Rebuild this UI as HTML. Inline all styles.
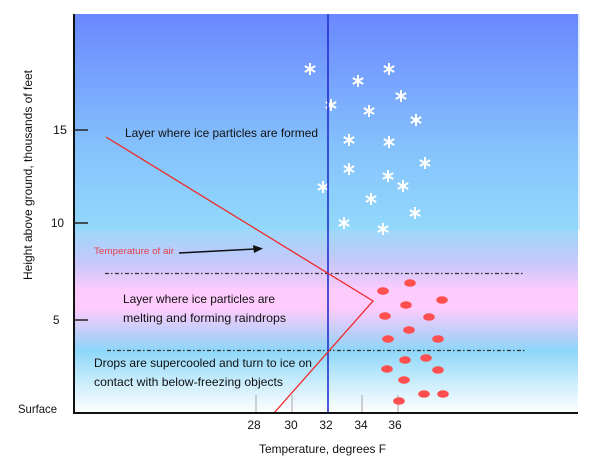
<!DOCTYPE html>
<html>
<head>
<meta charset="utf-8">
<style>
  html,body{margin:0;padding:0;background:#fff;}
  svg{display:block;}
  text{font-family:"Liberation Sans",sans-serif;}
</style>
</head>
<body>
<svg width="600" height="471" viewBox="0 0 600 471" xmlns="http://www.w3.org/2000/svg">
  <defs>
    <linearGradient id="gTop" x1="0" y1="14" x2="0" y2="230" gradientUnits="userSpaceOnUse">
      <stop offset="0" stop-color="#6a88ff"/>
      <stop offset="0.3" stop-color="#77a3fe"/>
      <stop offset="0.6" stop-color="#84c0fc"/>
      <stop offset="1" stop-color="#92d9fb"/>
    </linearGradient>
    <linearGradient id="gBot" x1="0" y1="230" x2="0" y2="413" gradientUnits="userSpaceOnUse">
      <stop offset="0" stop-color="#9ed8fb"/>
      <stop offset="0.17" stop-color="#c4c8fb"/>
      <stop offset="0.33" stop-color="#fecbfd"/>
      <stop offset="0.43" stop-color="#fecbfd"/>
      <stop offset="0.58" stop-color="#b4cff9"/>
      <stop offset="0.66" stop-color="#8dd7fa"/>
      <stop offset="0.82" stop-color="#c6ebfc"/>
      <stop offset="1" stop-color="#ffffff"/>
    </linearGradient>
    <g id="sf">
      <line x1="0" y1="-6" x2="0" y2="6" stroke="#fff" stroke-width="2"/>
      <line x1="-5.2" y1="-3" x2="5.2" y2="3" stroke="#fff" stroke-width="2"/>
      <line x1="-5.2" y1="3" x2="5.2" y2="-3" stroke="#fff" stroke-width="2"/>
    </g>
  </defs>

  <!-- background -->
  <rect x="74" y="14" width="504" height="216" fill="url(#gTop)"/>
  <rect x="74" y="230" width="504" height="183" fill="url(#gBot)"/>
  <rect x="578" y="14" width="2" height="216" fill="#c8dcff" opacity="0.6"/>

  <!-- gray x ticks -->
  <g stroke="#a8a8a8" stroke-width="1">
    <line x1="256" y1="395" x2="256" y2="413"/>
    <line x1="292" y1="395" x2="292" y2="413"/>
    <line x1="362" y1="395" x2="362" y2="413"/>
    <line x1="398" y1="395" x2="398" y2="413"/>
  </g>

  <!-- dash-dot lines -->
  <line x1="105" y1="273.5" x2="524" y2="273.5" stroke="#333" stroke-width="1.2" stroke-dasharray="4 2 1.5 2.5"/>
  <line x1="107" y1="350.5" x2="527" y2="350.5" stroke="#333" stroke-width="1.2" stroke-dasharray="4 2 1.5 2.5"/>

  <!-- snowflakes -->
  <use href="#sf" x="310" y="69"/>
  <use href="#sf" x="389" y="69"/>
  <use href="#sf" x="358" y="81"/>
  <use href="#sf" x="401" y="96"/>
  <use href="#sf" x="331" y="105"/>
  <use href="#sf" x="369" y="111"/>
  <use href="#sf" x="416" y="120"/>
  <use href="#sf" x="349" y="140"/>
  <use href="#sf" x="389" y="142"/>
  <use href="#sf" x="425" y="163"/>
  <use href="#sf" x="349" y="169"/>
  <use href="#sf" x="388" y="176"/>
  <use href="#sf" x="403" y="186"/>
  <use href="#sf" x="323" y="187"/>
  <use href="#sf" x="371" y="199"/>
  <use href="#sf" x="415" y="213"/>
  <use href="#sf" x="344" y="223"/>
  <use href="#sf" x="383" y="229"/>

  <!-- raindrops -->
  <g fill="#ff4f4f">
    <ellipse cx="410" cy="283" rx="5.8" ry="3.8"/>
    <ellipse cx="383" cy="291" rx="5.8" ry="3.8"/>
    <ellipse cx="442" cy="300" rx="5.8" ry="3.8"/>
    <ellipse cx="406" cy="305" rx="5.8" ry="3.8"/>
    <ellipse cx="385" cy="316" rx="5.8" ry="3.8"/>
    <ellipse cx="429" cy="317" rx="5.8" ry="3.8"/>
    <ellipse cx="409" cy="330" rx="5.8" ry="3.8"/>
    <ellipse cx="388" cy="339" rx="5.8" ry="3.8"/>
    <ellipse cx="438" cy="339" rx="5.8" ry="3.8"/>
    <ellipse cx="405" cy="360" rx="5.8" ry="3.8"/>
    <ellipse cx="426" cy="358" rx="5.8" ry="3.8"/>
    <ellipse cx="387" cy="369" rx="5.8" ry="3.8"/>
    <ellipse cx="438" cy="370" rx="5.8" ry="3.8"/>
    <ellipse cx="404" cy="380" rx="5.8" ry="3.8"/>
    <ellipse cx="424" cy="394" rx="5.8" ry="3.8"/>
    <ellipse cx="443" cy="394" rx="5.8" ry="3.8"/>
    <ellipse cx="399" cy="401" rx="5.8" ry="3.8"/>
  </g>

  <!-- blue 32F line -->
  <line x1="328" y1="14" x2="328" y2="413" stroke="#2430d0" stroke-width="1.6"/>

  <!-- temperature profile -->
  <polyline points="106,137 373,301 274,413" fill="none" stroke="#f02828" stroke-width="1.3"/>

  <!-- axes -->
  <line x1="74" y1="14" x2="74" y2="414" stroke="#111" stroke-width="2"/>
  <line x1="73" y1="413" x2="578" y2="413" stroke="#111" stroke-width="2"/>
  <g stroke="#222" stroke-width="1.5">
    <line x1="74" y1="130" x2="88" y2="130"/>
    <line x1="74" y1="223" x2="88" y2="223"/>
    <line x1="74" y1="320" x2="88" y2="320"/>
  </g>

  <!-- tick labels -->
  <g font-size="12" fill="#111">
    <text x="53" y="134" textLength="14" lengthAdjust="spacingAndGlyphs">15</text>
    <text x="51" y="227" textLength="13" lengthAdjust="spacingAndGlyphs">10</text>
    <text x="53" y="324" textLength="6.5" lengthAdjust="spacingAndGlyphs">5</text>
    <text x="18" y="413" textLength="39" lengthAdjust="spacingAndGlyphs">Surface</text>
    <text x="254" y="429" text-anchor="middle">28</text>
    <text x="291" y="429" text-anchor="middle">30</text>
    <text x="326" y="429" text-anchor="middle">32</text>
    <text x="361" y="429" text-anchor="middle">34</text>
    <text x="395" y="429" text-anchor="middle">36</text>
    <text x="259" y="453" textLength="127" lengthAdjust="spacingAndGlyphs">Temperature, degrees F</text>
    <text transform="translate(32,175) rotate(-90)" text-anchor="middle" textLength="210" lengthAdjust="spacingAndGlyphs">Height above ground, thousands of feet</text>
  </g>

  <!-- annotations -->
  <g font-size="12" fill="#111">
    <text x="125" y="137" textLength="193" lengthAdjust="spacingAndGlyphs">Layer where ice particles are formed</text>
    <text x="123" y="303" textLength="152" lengthAdjust="spacingAndGlyphs">Layer where ice particles are</text>
    <text x="123" y="322" textLength="163" lengthAdjust="spacingAndGlyphs">melting and forming raindrops</text>
    <text x="94" y="367" textLength="218" lengthAdjust="spacingAndGlyphs">Drops are supercooled and turn to ice on</text>
    <text x="94" y="386" textLength="189" lengthAdjust="spacingAndGlyphs">contact with below-freezing objects</text>
  </g>
  <text x="94" y="254" font-size="9" fill="#e8404a" textLength="80" lengthAdjust="spacingAndGlyphs">Temperature of air</text>
  <line x1="179" y1="253" x2="255" y2="249" stroke="#111" stroke-width="1.5"/>
  <polygon points="263,248.5 253,245 254,253" fill="#111"/>
</svg>
</body>
</html>
